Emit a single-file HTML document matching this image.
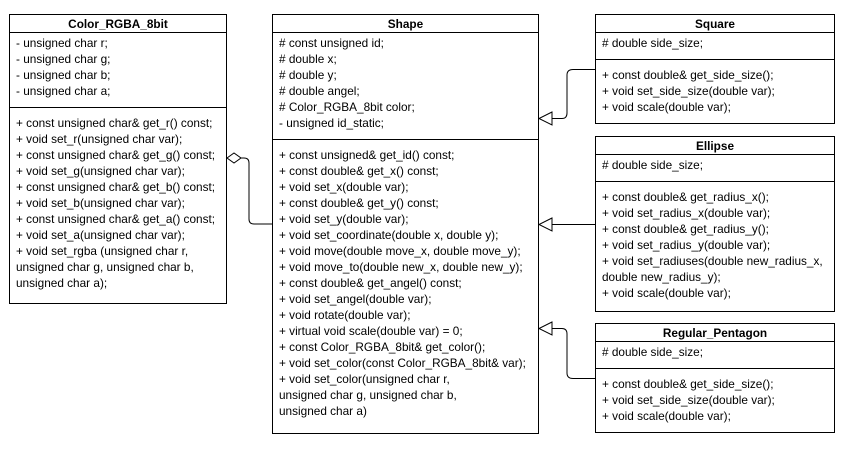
<!DOCTYPE html>
<html><head><style>
body{margin:0;width:847px;height:449px;background:#fff;position:relative;overflow:hidden;font-family:"Liberation Sans",Arial,sans-serif;font-size:11.8px;color:#000}
.b{position:absolute;border:1px solid #000;box-sizing:border-box;background:#fff}
.t{position:absolute;left:0;right:0;top:0;height:18px;line-height:18px;text-align:center;font-weight:bold;border-bottom:1px solid #000;box-sizing:border-box}
.hr{position:absolute;left:0;right:0;border-top:1px solid #000}
.l{position:absolute;left:6px;line-height:16px;white-space:nowrap}
svg{position:absolute;left:0;top:0}
</style></head><body>
<div class="b" style="left:9px;top:14px;width:218px;height:290px">
<div class="t">Color_RGBA_8bit</div>
<div class="l" style="top:20px">- unsigned char r;<br>- unsigned char g;<br>- unsigned char b;<br>- unsigned char a;</div>
<div class="hr" style="top:92px"></div>
<div class="l" style="top:100px">+ const unsigned char&amp; get_r() const;<br>+ void set_r(unsigned char var);<br>+ const unsigned char&amp; get_g() const;<br>+ void set_g(unsigned char var);<br>+ const unsigned char&amp; get_b() const;<br>+ void set_b(unsigned char var);<br>+ const unsigned char&amp; get_a() const;<br>+ void set_a(unsigned char var);<br>+ void set_rgba (unsigned char r,<br>unsigned char g, unsigned char b,<br>unsigned char a);</div>
</div>
<div class="b" style="left:272px;top:14px;width:267px;height:420px">
<div class="t">Shape</div>
<div class="l" style="top:20px"># const unsigned id;<br># double x;<br># double y;<br># double angel;<br># Color_RGBA_8bit color;<br>- unsigned id_static;</div>
<div class="hr" style="top:124px"></div>
<div class="l" style="top:132px">+ const unsigned&amp; get_id() const;<br>+ const double&amp; get_x() const;<br>+ void set_x(double var);<br>+ const double&amp; get_y() const;<br>+ void set_y(double var);<br>+ void set_coordinate(double x, double y);<br>+ void move(double move_x, double move_y);<br>+ void move_to(double new_x, double new_y);<br>+ const double&amp; get_angel() const;<br>+ void set_angel(double var);<br>+ void rotate(double var);<br>+ virtual void scale(double var) = 0;<br>+ const Color_RGBA_8bit&amp; get_color();<br>+ void set_color(const Color_RGBA_8bit&amp; var);<br>+ void set_color(unsigned char r,<br>unsigned char g, unsigned char b,<br>unsigned char a)</div>
</div>
<div class="b" style="left:595px;top:14px;width:240px;height:110px">
<div class="t">Square</div>
<div class="l" style="top:20px"># double side_size;</div>
<div class="hr" style="top:44px"></div>
<div class="l" style="top:52px">+ const double&amp; get_side_size();<br>+ void set_side_size(double var);<br>+ void scale(double var);</div>
</div>
<div class="b" style="left:595px;top:136px;width:240px;height:176px">
<div class="t">Ellipse</div>
<div class="l" style="top:20px"># double side_size;</div>
<div class="hr" style="top:44px"></div>
<div class="l" style="top:52px">+ const double&amp; get_radius_x();<br>+ void set_radius_x(double var);<br>+ const double&amp; get_radius_y();<br>+ void set_radius_y(double var);<br>+ void set_radiuses(double new_radius_x,<br>double new_radius_y);<br>+ void scale(double var);</div>
</div>
<div class="b" style="left:595px;top:323px;width:240px;height:110px">
<div class="t">Regular_Pentagon</div>
<div class="l" style="top:20px"># double side_size;</div>
<div class="hr" style="top:44px"></div>
<div class="l" style="top:52px">+ const double&amp; get_side_size();<br>+ void set_side_size(double var);<br>+ void scale(double var);</div>
</div>
<svg width="847" height="449" fill="none" stroke="#000" stroke-width="1">
<path d="M227 158 L234 153 L241 158 L234 163 Z" fill="#fff"/>
<path d="M241 158 H244 Q249 158 249 163 V219 Q249 224 254 224 H272"/>
<path d="M595 69.5 H573 Q567 69.5 567 75 V113 Q567 118.5 562 118.5 H552"/>
<path d="M552 112 L539 118.5 L552 125 Z" fill="#fff"/>
<path d="M595 224.5 H552"/>
<path d="M552 218 L539 224.5 L552 231 Z" fill="#fff"/>
<path d="M595 378.5 H573 Q567 378.5 567 373 V334 Q567 328.5 562 328.5 H552"/>
<path d="M552 322 L539 328.5 L552 335 Z" fill="#fff"/>
</svg>
</body></html>
